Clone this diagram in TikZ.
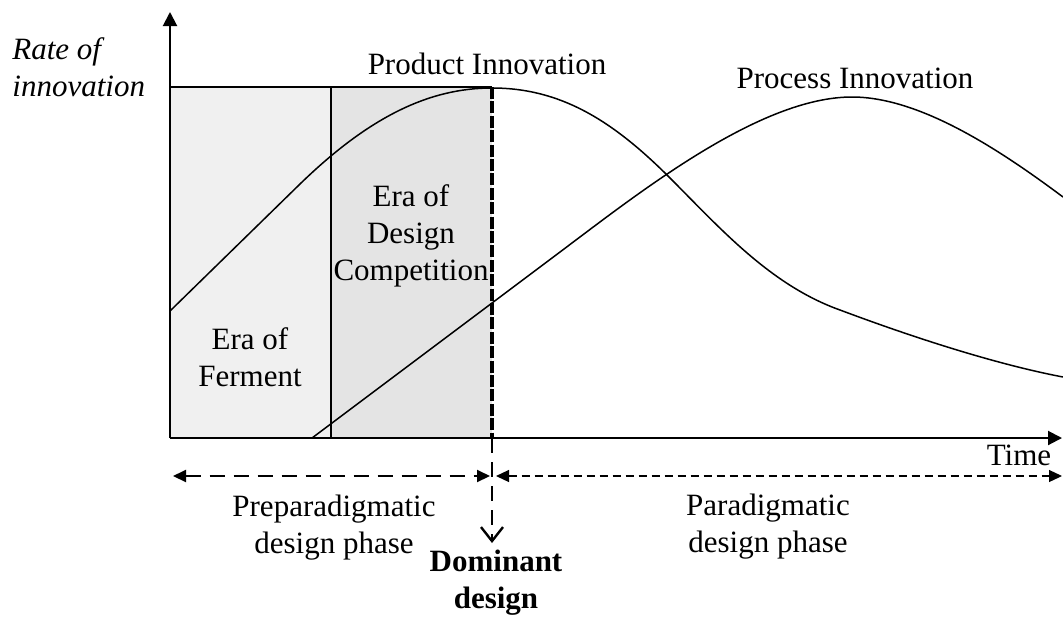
\documentclass[tikz,border=0pt]{standalone}
\usepackage{fontspec}
\setmainfont{Liberation Serif}
\usetikzlibrary{arrows.meta}
\usetikzlibrary{positioning}

\newcommand{\lblfont}{\fontsize{15.5}{18.5}\selectfont}

\tikzset{
    lbl/.style={font=\lblfont, align=center, inner sep=0pt},
    curve/.style={line width=0.75pt},
    axis/.style={line width=1pt, -{Triangle[length=7pt,width=7pt]}},
    phase/.style={{Triangle[length=6.5pt,width=6pt]}-{Triangle[length=6.5pt,width=6pt]}}
}

\begin{document}
\begin{tikzpicture}[x=0.5pt,y=-0.5pt]
        \useasboundingbox (0,0) rectangle (1063,616);

        % Key points
        \coordinate (O) at (170,438);
        \coordinate (ytop) at (170,12);
        \coordinate (xend) at (1062,438);
        \coordinate (dtop) at (492,87);
        \coordinate (dbase) at (492,438);
        \coordinate (dtip) at (492,543);
        \coordinate (lend) at (173,476);
        \coordinate (mid) at (492,476);
        \coordinate (rend) at (1062,476);

        % Shaded eras
        \fill[gray!12] (170,87) rectangle (331,438);
        \fill[gray!21] (331,87) rectangle (492,438);
        \draw[line width=0.75pt] (170,87) -- (dtop);
        \draw[line width=0.75pt] (331,87) -- (331,438);

        % Product innovation
        \draw[curve] (170,311) -- (300,184)
            .. controls (370,116) and (430,88) .. (492,88)
            .. controls (560,88) and (612,120) .. (669,177)
            .. controls (720,228) and (770,285) .. (840,310)
            .. controls (920,340) and (1000,365) .. (1063,377);

        % Process innovation
        \draw[curve] (312,438) -- (560,252)
            .. controls (640,192) and (760,97) .. (852,97)
            .. controls (920,97) and (1000,150) .. (1063,197);

        % Axes
        \draw[axis] (O) -- (ytop);
        \draw[axis] (O) -- (xend);

        % Dominant design line
        \draw[line width=2pt, dash pattern=on 6pt off 1.2pt] (dtop) -- (dbase);
        \draw[line width=1.2pt, dash pattern=on 7.5pt off 4.5pt,
            -{Straight Barb[length=7pt,width=11pt]}] (dbase) -- (dtip);

        % Phases
        \draw[phase, line width=1pt, dash pattern=on 7.5pt off 4.5pt]
            (lend) -- ([xshift=-1pt]mid);
        \draw[phase, line width=0.6pt, dash pattern=on 4pt off 2.5pt]
            ([xshift=2pt]mid) -- (rend);

        % Labels
        \node[lbl, font=\lblfont\itshape, align=left, anchor=west] (rate) at (12,67) {Rate of\\innovation};
        \node[lbl] (prod) at (487,64) {Product Innovation};
        \node[lbl] (proc) at (855,78) {Process Innovation};
        \node[lbl] (ferm) at (250,357) {Era of\\Ferment};
        \node[lbl] (comp) at (411,236) {Era of\\Design\\Competition};
        \node[lbl] (time) at (1019,455) {Time};
        \node[lbl] (pre) at (334,528) {Preparadigmatic\\design phase};
        \node[lbl] (para) at (768,527) {Paradigmatic\\design phase};
        \node[lbl, font=\lblfont\bfseries] (dom) at (496,583) {Dominant\\design};

    \end{tikzpicture}
\end{document}
